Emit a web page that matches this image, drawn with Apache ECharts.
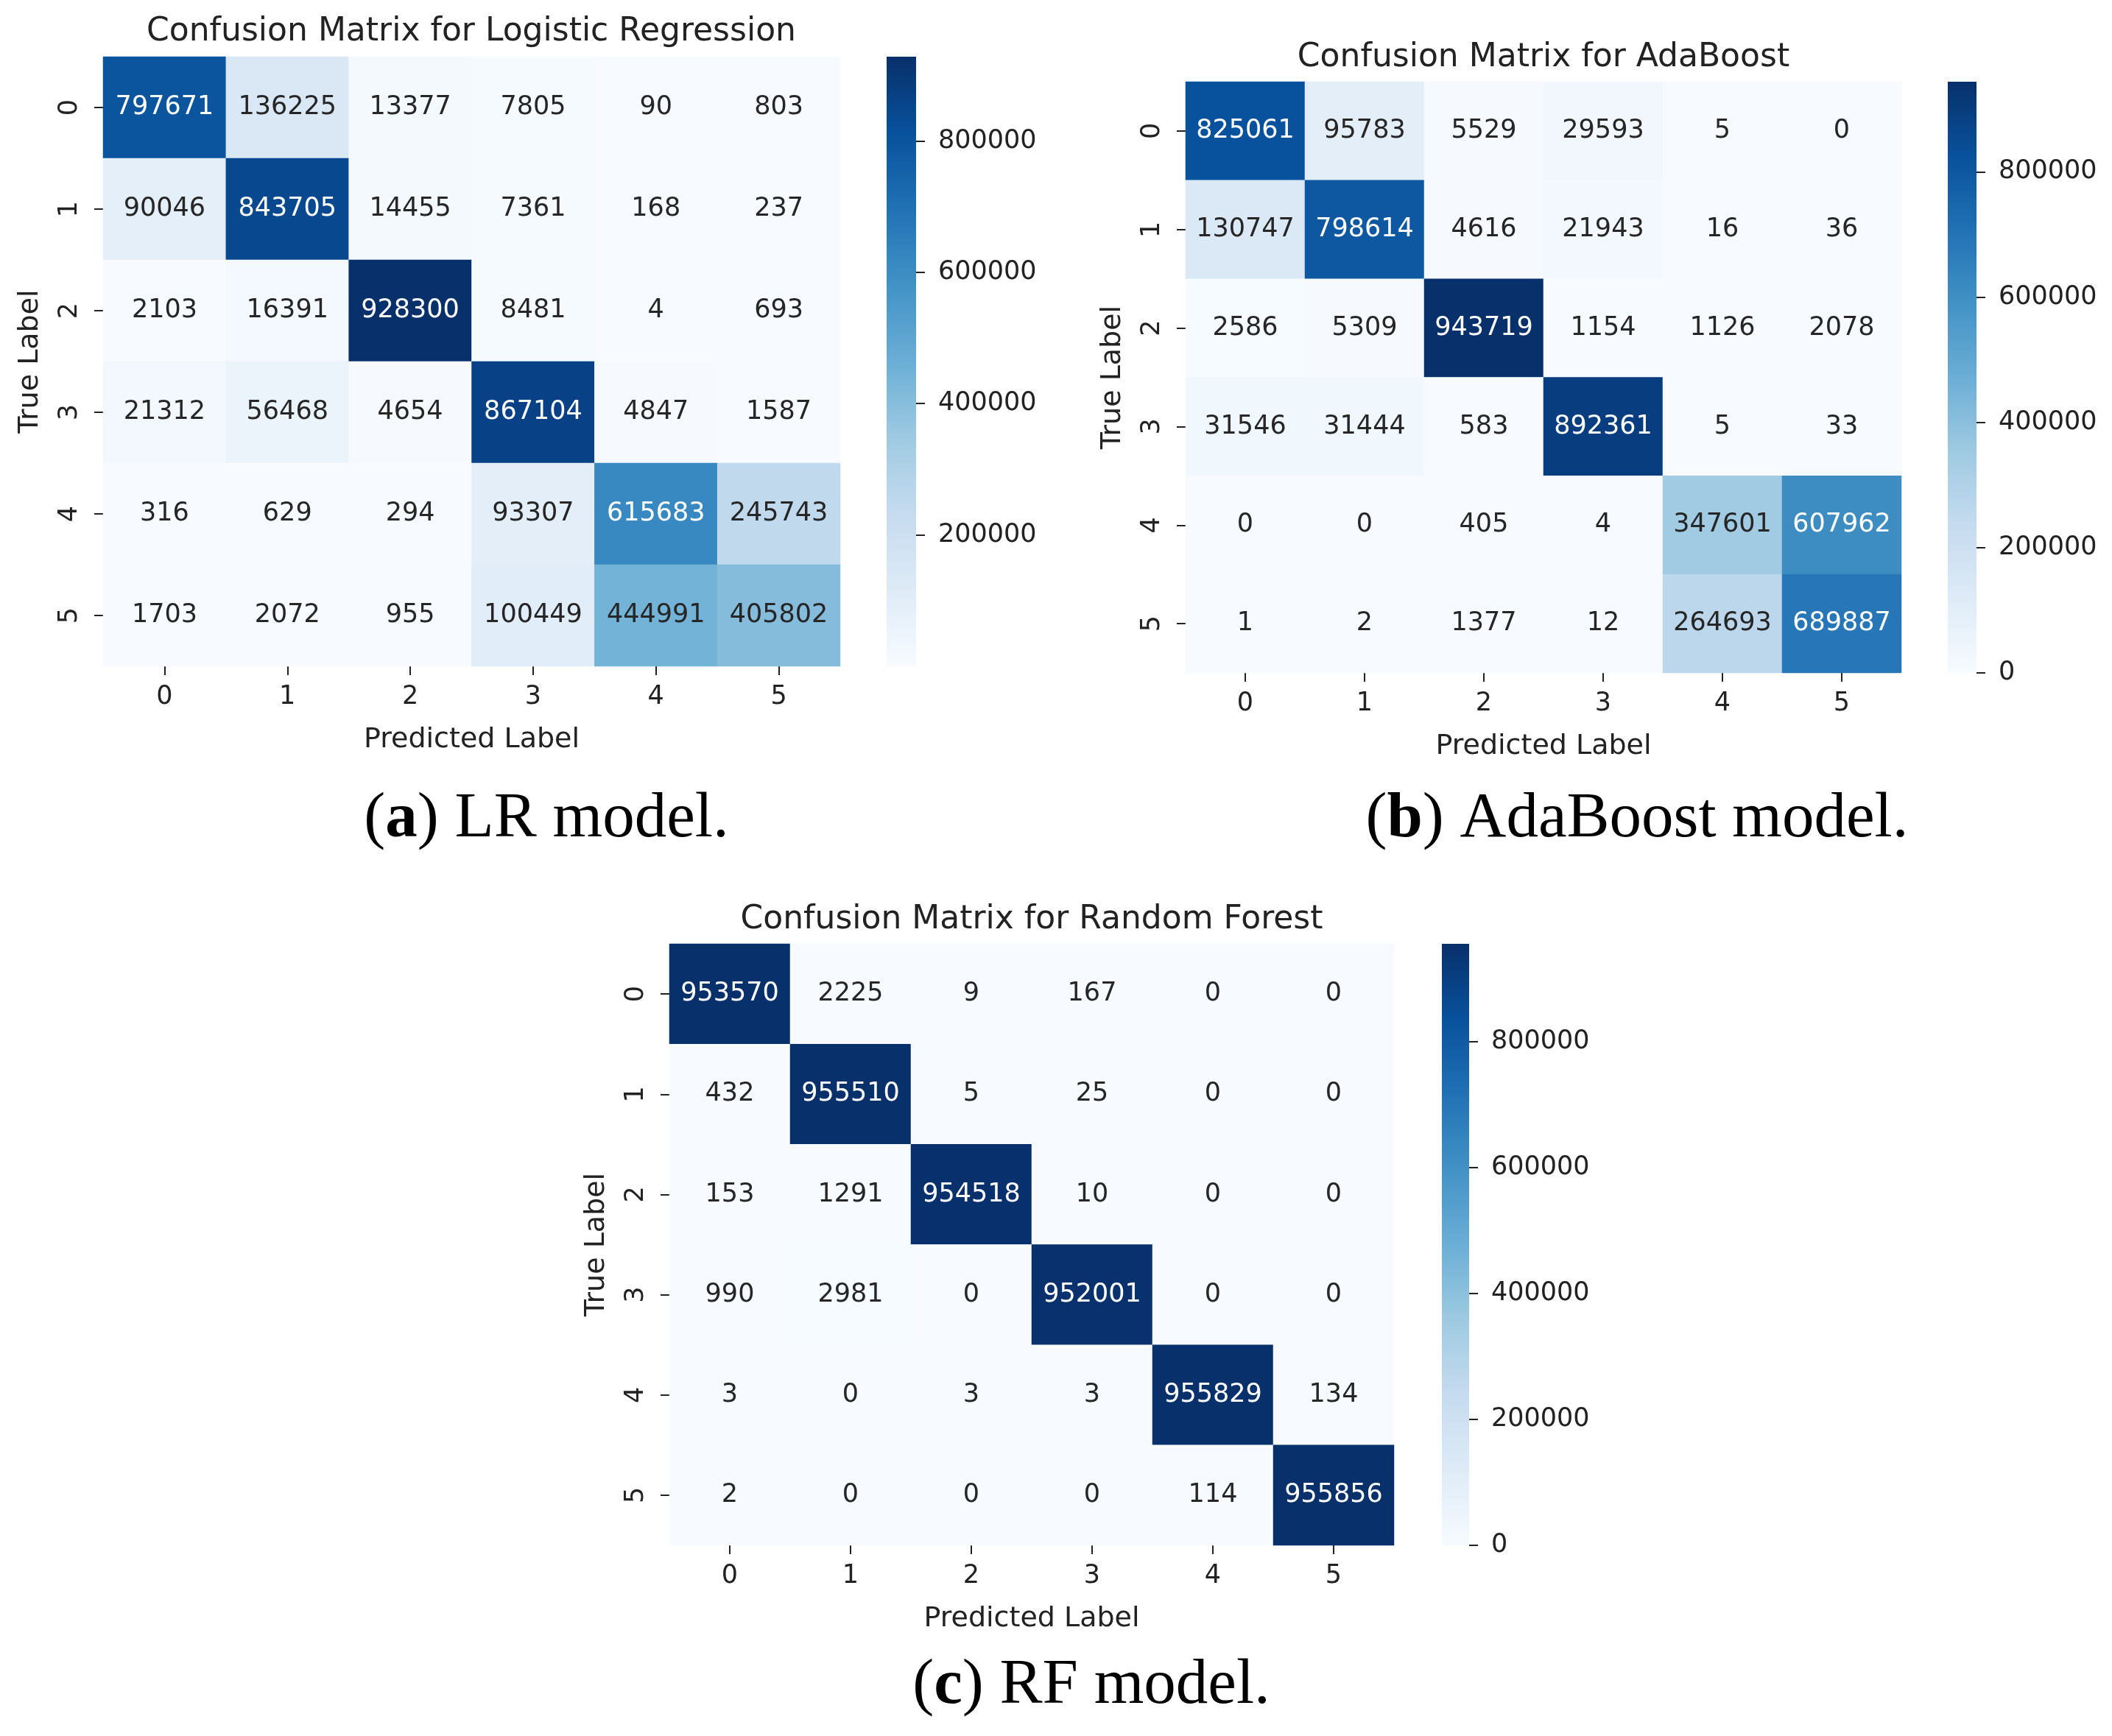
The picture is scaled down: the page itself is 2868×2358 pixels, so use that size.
<!DOCTYPE html>
<html>
<head>
<meta charset="utf-8">
<script src="https://cdn.jsdelivr.net/npm/echarts@6/dist/echarts.min.js"></script>
<style>
  html, body { margin: 0; padding: 0; background: #ffffff; }
  #chart { width: 2868px; height: 2358px; }
</style>
</head>
<body>
<div id="chart"></div>
<script>
// ---------------- DATA ----------------
const classLabels = ['0', '1', '2', '3', '4', '5'];

const lrMatrix = [
  [797671, 136225, 13377, 7805, 90, 803],
  [90046, 843705, 14455, 7361, 168, 237],
  [2103, 16391, 928300, 8481, 4, 693],
  [21312, 56468, 4654, 867104, 4847, 1587],
  [316, 629, 294, 93307, 615683, 245743],
  [1703, 2072, 955, 100449, 444991, 405802]
];

const adaMatrix = [
  [825061, 95783, 5529, 29593, 5, 0],
  [130747, 798614, 4616, 21943, 16, 36],
  [2586, 5309, 943719, 1154, 1126, 2078],
  [31546, 31444, 583, 892361, 5, 33],
  [0, 0, 405, 4, 347601, 607962],
  [1, 2, 1377, 12, 264693, 689887]
];

const rfMatrix = [
  [953570, 2225, 9, 167, 0, 0],
  [432, 955510, 5, 25, 0, 0],
  [153, 1291, 954518, 10, 0, 0],
  [990, 2981, 0, 952001, 0, 0],
  [3, 0, 3, 3, 955829, 134],
  [2, 0, 0, 0, 114, 955856]
];

const lrColorbarTicks = [200000, 400000, 600000, 800000];
const adaColorbarTicks = [0, 200000, 400000, 600000, 800000];
const rfColorbarTicks = [0, 200000, 400000, 600000, 800000];

const panelTitles = [
  'Confusion Matrix for Logistic Regression',
  'Confusion Matrix for AdaBoost',
  'Confusion Matrix for Random Forest'
];
const captionLetters = ['a', 'b', 'c'];
const captionTexts = [' LR model.', ' AdaBoost model.', ' RF model.'];
const xAxisTitle = 'Predicted Label';
const yAxisTitle = 'True Label';

// ---------------- STYLE / LAYOUT ----------------
const BLUES = ['#f7fbff', '#deebf7', '#c6dbef', '#9ecae1', '#6baed6', '#4292c6', '#2171b5', '#08519c', '#08306b'];
const SANS = 'DejaVu Sans';
const SERIF = 'Liberation Serif';
const INK = '#222222';

const layout = [
  { grid: { left: 140, top: 77, width: 1001, height: 828 }, cbar: { left: 1204, top: 77, width: 40, height: 828 },
    title: { x: 640, top: 22 }, caption: { x: 742, top: 1070 } },
  { grid: { left: 1610, top: 111, width: 972, height: 803 }, cbar: { left: 2645, top: 111, width: 39, height: 803 },
    title: { x: 2096, top: 57 }, caption: { x: 2223, top: 1070 } },
  { grid: { left: 909, top: 1282, width: 984, height: 817 }, cbar: { left: 1958, top: 1282, width: 37, height: 817 },
    title: { x: 1401, top: 1228 }, caption: { x: 1482, top: 2247 } }
];

function hexToRgb(h) {
  return [parseInt(h.slice(1, 3), 16), parseInt(h.slice(3, 5), 16), parseInt(h.slice(5, 7), 16)];
}
function bluesAt(t) {
  t = Math.max(0, Math.min(1, t));
  const pos = t * (BLUES.length - 1);
  const i = Math.min(Math.floor(pos), BLUES.length - 2);
  const f = pos - i;
  const a = hexToRgb(BLUES[i]), b = hexToRgb(BLUES[i + 1]);
  return [0, 1, 2].map(k => a[k] + (b[k] - a[k]) * f);
}
function relLum(rgb) {
  const lin = rgb.map(c => {
    c = c / 255;
    return c <= 0.03928 ? c / 12.92 : Math.pow((c + 0.055) / 1.055, 2.4);
  });
  return 0.2126 * lin[0] + 0.7152 * lin[1] + 0.0722 * lin[2];
}

const matrices = [lrMatrix, adaMatrix, rfMatrix];
const tickSets = [lrColorbarTicks, adaColorbarTicks, rfColorbarTicks];

const option = {
  backgroundColor: '#ffffff',
  animation: false,
  title: [],
  grid: [],
  xAxis: [],
  yAxis: [],
  visualMap: [],
  series: []
};

matrices.forEach((m, p) => {
  const flat = m.flat();
  const vmin = Math.min(...flat);
  const vmax = Math.max(...flat);
  const L = layout[p];

  option.grid.push(Object.assign({ containLabel: false }, L.grid));
  option.grid.push(Object.assign({ containLabel: false }, L.cbar));

  const gHeat = p * 2, gBar = p * 2 + 1;

  option.xAxis.push({
    gridIndex: gHeat, type: 'category', data: classLabels, position: 'bottom',
    axisLine: { show: false },
    axisTick: { show: true, alignWithLabel: true, length: 12, lineStyle: { color: INK, width: 2 } },
    axisLabel: { fontFamily: SANS, fontSize: 35, color: INK, margin: 24 },
    splitLine: { show: false },
    name: xAxisTitle, nameLocation: 'middle', nameGap: 81,
    nameTextStyle: { fontFamily: SANS, fontSize: 38, color: INK }
  });
  option.yAxis.push({
    gridIndex: gHeat, type: 'category', data: classLabels, inverse: true, position: 'left',
    axisLine: { show: false },
    axisTick: { show: true, alignWithLabel: true, length: 12, lineStyle: { color: INK, width: 2 } },
    axisLabel: { fontFamily: SANS, fontSize: 35, color: INK, margin: 28, rotate: 90 },
    splitLine: { show: false },
    name: yAxisTitle, nameLocation: 'middle', nameGap: 80, nameRotate: 90,
    nameTextStyle: { fontFamily: SANS, fontSize: 38, color: INK }
  });

  option.xAxis.push({
    gridIndex: gBar, type: 'category', data: [''], show: false
  });
  option.yAxis.push({
    gridIndex: gBar, type: 'value', position: 'right', min: vmin, max: vmax,
    axisLine: { show: false },
    splitLine: { show: false },
    axisTick: { show: true, inside: false, length: 12, customValues: tickSets[p], lineStyle: { color: INK, width: 2 } },
    axisLabel: { fontFamily: SANS, fontSize: 35, color: INK, margin: 30, customValues: tickSets[p],
                 formatter: v => String(v) }
  });

  const heatData = [];
  m.forEach((row, r) => {
    row.forEach((v, c) => {
      const lum = relLum(bluesAt((v - vmin) / (vmax - vmin)));
      heatData.push({ value: [c, r, v], label: { color: lum > 0.39 ? '#262626' : '#ffffff' } });
    });
  });

  const heatSeriesIndex = option.series.length;
  option.series.push({
    type: 'heatmap',
    xAxisIndex: gHeat, yAxisIndex: gHeat,
    data: heatData,
    itemStyle: { borderWidth: 0 },
    label: { show: true, fontFamily: SANS, fontSize: 35, formatter: pp => String(pp.value[2]) },
    emphasis: { disabled: true },
    silent: true
  });
  option.visualMap.push({
    type: 'continuous', show: false, seriesIndex: heatSeriesIndex, dimension: 2,
    min: vmin, max: vmax, inRange: { color: BLUES }
  });

  option.series.push({
    type: 'bar',
    xAxisIndex: gBar, yAxisIndex: gBar,
    data: [vmax],
    barWidth: '100%',
    silent: true,
    z: 1,
    itemStyle: {
      color: new echarts.graphic.LinearGradient(0, 1, 0, 0,
        BLUES.map((c, i) => ({ offset: i / (BLUES.length - 1), color: c })))
    }
  });

  option.title.push({
    text: panelTitles[p], left: L.title.x, top: L.title.top, textAlign: 'center', padding: 0,
    textStyle: { fontFamily: SANS, fontSize: 44, fontWeight: 'normal', color: INK }
  });
  option.title.push({
    text: '({bold|' + captionLetters[p] + '})' + captionTexts[p],
    left: L.caption.x, top: L.caption.top, textAlign: 'center', padding: 0,
    textStyle: { fontFamily: SERIF, fontSize: 87, fontWeight: 'normal', color: '#000000',
      rich: { bold: { fontFamily: SERIF, fontSize: 87, fontWeight: 'bold', color: '#000000' } } }
  });
});

const chart = echarts.init(document.getElementById('chart'), null, { renderer: 'canvas', width: 2868, height: 2358 });
chart.setOption(option);
</script>
</body>
</html>
